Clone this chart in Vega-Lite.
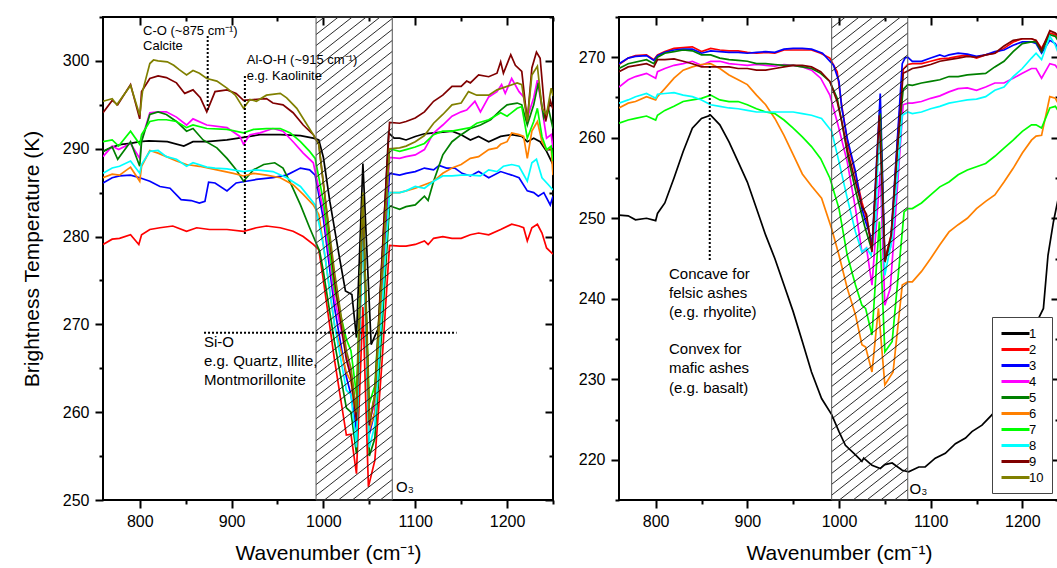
{
"$schema": "https://vega.github.io/schema/vega-lite/v6.json",
"background": "white",
"padding": {"left": 20, "top": 15, "right": 0, "bottom": 0},
"config": {
  "font": "Liberation Sans",
  "view": {"stroke": "black", "strokeWidth": 2},
  "concat": {"spacing": 22},
  "axis": {"labelColor": "black", "titleColor": "black", "tickColor": "black", "grid": false, "domain": false, "labelFontSize": 16, "titleFontSize": 21, "titleFontWeight": "normal", "tickWidth": 2, "labelFont": "Liberation Sans", "titleFont": "Liberation Sans"},
  "text": {"font": "Liberation Sans", "color": "black"}
},
"resolve": {"legend": {"color": "independent"}},
"datasets": {
"L": [
{"id":"1","wn":760,"bt":289.7},{"id":"1","wn":770,"bt":290.2},{"id":"1","wn":780,"bt":290.5},{"id":"1","wn":790,"bt":290.6},{"id":"1","wn":800,"bt":290.8},{"id":"1","wn":810,"bt":290.9},{"id":"1","wn":830,"bt":290.8},{"id":"1","wn":848,"bt":290.3},{"id":"1","wn":858,"bt":290.8},{"id":"1","wn":873,"bt":290.8},{"id":"1","wn":895,"bt":291},{"id":"1","wn":913,"bt":291.3},{"id":"1","wn":931,"bt":291.6},{"id":"1","wn":953,"bt":291.6},{"id":"1","wn":975,"bt":291.5},{"id":"1","wn":989,"bt":291.2},{"id":"1","wn":995,"bt":291},{"id":"1","wn":1000,"bt":289},{"id":"1","wn":1007,"bt":284},{"id":"1","wn":1018,"bt":277.3},{"id":"1","wn":1024,"bt":273.8},{"id":"1","wn":1031,"bt":273.4},{"id":"1","wn":1036,"bt":268.5},{"id":"1","wn":1043,"bt":288.3},{"id":"1","wn":1052,"bt":267.7},{"id":"1","wn":1060,"bt":269.6},{"id":"1","wn":1071,"bt":291.8},{"id":"1","wn":1077,"bt":291.2},{"id":"1","wn":1083,"bt":291.2},{"id":"1","wn":1090,"bt":291},{"id":"1","wn":1100,"bt":291.4},{"id":"1","wn":1110,"bt":291.7},{"id":"1","wn":1120,"bt":291.8},{"id":"1","wn":1130,"bt":291.9},{"id":"1","wn":1140,"bt":292},{"id":"1","wn":1150,"bt":291.6},{"id":"1","wn":1160,"bt":291},{"id":"1","wn":1169,"bt":291.4},{"id":"1","wn":1180,"bt":290.8},{"id":"1","wn":1193,"bt":291.4},{"id":"1","wn":1205,"bt":291.6},{"id":"1","wn":1216,"bt":291.4},{"id":"1","wn":1222,"bt":290.8},{"id":"1","wn":1229,"bt":291.2},{"id":"1","wn":1236,"bt":290.8},{"id":"1","wn":1243,"bt":289.7},{"id":"1","wn":1250,"bt":288.2},
{"id":"2","wn":760,"bt":279.1},{"id":"2","wn":770,"bt":279.7},{"id":"2","wn":778,"bt":279.8},{"id":"2","wn":790,"bt":280.2},{"id":"2","wn":799,"bt":279.1},{"id":"2","wn":802,"bt":280.2},{"id":"2","wn":811,"bt":280.8},{"id":"2","wn":822,"bt":281},{"id":"2","wn":836,"bt":281.2},{"id":"2","wn":851,"bt":280.6},{"id":"2","wn":862,"bt":281},{"id":"2","wn":876,"bt":280.8},{"id":"2","wn":895,"bt":280.8},{"id":"2","wn":913,"bt":280.6},{"id":"2","wn":927,"bt":281},{"id":"2","wn":938,"bt":281.2},{"id":"2","wn":953,"bt":281},{"id":"2","wn":967,"bt":280.6},{"id":"2","wn":978,"bt":280},{"id":"2","wn":989,"bt":279.1},{"id":"2","wn":995,"bt":278.5},{"id":"2","wn":1000,"bt":275},{"id":"2","wn":1012,"bt":266},{"id":"2","wn":1025,"bt":257.4},{"id":"2","wn":1030,"bt":257.5},{"id":"2","wn":1036,"bt":253},{"id":"2","wn":1043,"bt":272},{"id":"2","wn":1049,"bt":251.5},{"id":"2","wn":1056,"bt":254.5},{"id":"2","wn":1064,"bt":266},{"id":"2","wn":1072,"bt":279},{"id":"2","wn":1083,"bt":278.9},{"id":"2","wn":1090,"bt":278.9},{"id":"2","wn":1100,"bt":279.1},{"id":"2","wn":1110,"bt":279.5},{"id":"2","wn":1114,"bt":279.1},{"id":"2","wn":1120,"bt":279.8},{"id":"2","wn":1130,"bt":280},{"id":"2","wn":1140,"bt":279.8},{"id":"2","wn":1150,"bt":279.8},{"id":"2","wn":1160,"bt":280.2},{"id":"2","wn":1169,"bt":280.4},{"id":"2","wn":1180,"bt":280.2},{"id":"2","wn":1193,"bt":280.8},{"id":"2","wn":1205,"bt":281.4},{"id":"2","wn":1213,"bt":281.2},{"id":"2","wn":1218,"bt":281},{"id":"2","wn":1222,"bt":279.5},{"id":"2","wn":1227,"bt":281},{"id":"2","wn":1233,"bt":281.4},{"id":"2","wn":1238,"bt":280.4},{"id":"2","wn":1243,"bt":278.7},{"id":"2","wn":1250,"bt":278},
{"id":"3","wn":760,"bt":286.1},{"id":"3","wn":770,"bt":286.7},{"id":"3","wn":778,"bt":286.9},{"id":"3","wn":790,"bt":287},{"id":"3","wn":800,"bt":286.7},{"id":"3","wn":811,"bt":286.3},{"id":"3","wn":822,"bt":285.7},{"id":"3","wn":833,"bt":285.5},{"id":"3","wn":845,"bt":284.2},{"id":"3","wn":856,"bt":284.1},{"id":"3","wn":865,"bt":283.8},{"id":"3","wn":871,"bt":284},{"id":"3","wn":875,"bt":286.2},{"id":"3","wn":882,"bt":286.1},{"id":"3","wn":895,"bt":285.2},{"id":"3","wn":905,"bt":286.1},{"id":"3","wn":916,"bt":286.3},{"id":"3","wn":927,"bt":286.5},{"id":"3","wn":945,"bt":286.7},{"id":"3","wn":960,"bt":287},{"id":"3","wn":975,"bt":287.8},{"id":"3","wn":985,"bt":287.6},{"id":"3","wn":991,"bt":287},{"id":"3","wn":1000,"bt":282},{"id":"3","wn":1012,"bt":272},{"id":"3","wn":1025,"bt":264},{"id":"3","wn":1030,"bt":262},{"id":"3","wn":1036,"bt":258},{"id":"3","wn":1043,"bt":283},{"id":"3","wn":1050,"bt":257.5},{"id":"3","wn":1056,"bt":260},{"id":"3","wn":1064,"bt":274},{"id":"3","wn":1072,"bt":287.2},{"id":"3","wn":1083,"bt":287},{"id":"3","wn":1090,"bt":287.2},{"id":"3","wn":1100,"bt":287.4},{"id":"3","wn":1110,"bt":287.8},{"id":"3","wn":1120,"bt":287.6},{"id":"3","wn":1126,"bt":288.1},{"id":"3","wn":1134,"bt":287.8},{"id":"3","wn":1143,"bt":287.8},{"id":"3","wn":1151,"bt":287.2},{"id":"3","wn":1160,"bt":286.9},{"id":"3","wn":1169,"bt":287.4},{"id":"3","wn":1180,"bt":286.7},{"id":"3","wn":1193,"bt":287.4},{"id":"3","wn":1205,"bt":287},{"id":"3","wn":1213,"bt":286.7},{"id":"3","wn":1222,"bt":285.2},{"id":"3","wn":1229,"bt":285},{"id":"3","wn":1234,"bt":284.6},{"id":"3","wn":1240,"bt":285},{"id":"3","wn":1247,"bt":283.6},{"id":"3","wn":1250,"bt":284.6},
{"id":"4","wn":760,"bt":289.1},{"id":"4","wn":770,"bt":290.3},{"id":"4","wn":777,"bt":289.9},{"id":"4","wn":790,"bt":290.6},{"id":"4","wn":800,"bt":288.9},{"id":"4","wn":802,"bt":291},{"id":"4","wn":811,"bt":294.1},{"id":"4","wn":820,"bt":294.2},{"id":"4","wn":829,"bt":294.2},{"id":"4","wn":840,"bt":293.6},{"id":"4","wn":851,"bt":292.7},{"id":"4","wn":858,"bt":293.4},{"id":"4","wn":873,"bt":292.7},{"id":"4","wn":895,"bt":292.4},{"id":"4","wn":909,"bt":291.4},{"id":"4","wn":913,"bt":290.5},{"id":"4","wn":920,"bt":291.6},{"id":"4","wn":931,"bt":291.8},{"id":"4","wn":945,"bt":292.3},{"id":"4","wn":956,"bt":292},{"id":"4","wn":967,"bt":290.8},{"id":"4","wn":978,"bt":289.5},{"id":"4","wn":989,"bt":288.4},{"id":"4","wn":1000,"bt":283},{"id":"4","wn":1012,"bt":273},{"id":"4","wn":1025,"bt":266.5},{"id":"4","wn":1030,"bt":264.5},{"id":"4","wn":1036,"bt":260},{"id":"4","wn":1043,"bt":284},{"id":"4","wn":1050,"bt":259},{"id":"4","wn":1056,"bt":261},{"id":"4","wn":1064,"bt":276},{"id":"4","wn":1072,"bt":289},{"id":"4","wn":1083,"bt":288.9},{"id":"4","wn":1090,"bt":289.1},{"id":"4","wn":1100,"bt":289.3},{"id":"4","wn":1110,"bt":289.9},{"id":"4","wn":1120,"bt":291.8},{"id":"4","wn":1130,"bt":292.7},{"id":"4","wn":1140,"bt":293.7},{"id":"4","wn":1150,"bt":294.2},{"id":"4","wn":1156,"bt":294.4},{"id":"4","wn":1165,"bt":295.4},{"id":"4","wn":1171,"bt":294.2},{"id":"4","wn":1180,"bt":295.9},{"id":"4","wn":1189,"bt":296.5},{"id":"4","wn":1194,"bt":297.3},{"id":"4","wn":1198,"bt":296.3},{"id":"4","wn":1205,"bt":298},{"id":"4","wn":1213,"bt":296.5},{"id":"4","wn":1218,"bt":295.9},{"id":"4","wn":1222,"bt":293.5},{"id":"4","wn":1229,"bt":295.8},{"id":"4","wn":1233,"bt":297.8},{"id":"4","wn":1238,"bt":294.6},{"id":"4","wn":1243,"bt":291.2},{"id":"4","wn":1248,"bt":291.6},{"id":"4","wn":1250,"bt":290.1},
{"id":"5","wn":760,"bt":289.7},{"id":"5","wn":770,"bt":290.2},{"id":"5","wn":776,"bt":288.8},{"id":"5","wn":790,"bt":290.8},{"id":"5","wn":800,"bt":288},{"id":"5","wn":802,"bt":290.8},{"id":"5","wn":811,"bt":293.9},{"id":"5","wn":820,"bt":294.2},{"id":"5","wn":829,"bt":293.9},{"id":"5","wn":840,"bt":293.1},{"id":"5","wn":851,"bt":292},{"id":"5","wn":858,"bt":292.3},{"id":"5","wn":869,"bt":291},{"id":"5","wn":884,"bt":290.1},{"id":"5","wn":895,"bt":288.9},{"id":"5","wn":905,"bt":287.6},{"id":"5","wn":913,"bt":286.3},{"id":"5","wn":924,"bt":287.6},{"id":"5","wn":935,"bt":288.2},{"id":"5","wn":947,"bt":288.4},{"id":"5","wn":956,"bt":287.8},{"id":"5","wn":965,"bt":285.9},{"id":"5","wn":975,"bt":283.6},{"id":"5","wn":985,"bt":281},{"id":"5","wn":996,"bt":278.3},{"id":"5","wn":1000,"bt":276},{"id":"5","wn":1012,"bt":268},{"id":"5","wn":1025,"bt":260.5},{"id":"5","wn":1030,"bt":260},{"id":"5","wn":1036,"bt":255.3},{"id":"5","wn":1043,"bt":283},{"id":"5","wn":1050,"bt":255},{"id":"5","wn":1056,"bt":257},{"id":"5","wn":1064,"bt":270},{"id":"5","wn":1072,"bt":283.5},{"id":"5","wn":1083,"bt":283.1},{"id":"5","wn":1090,"bt":283.4},{"id":"5","wn":1100,"bt":283.6},{"id":"5","wn":1110,"bt":284.6},{"id":"5","wn":1114,"bt":284.1},{"id":"5","wn":1120,"bt":286.3},{"id":"5","wn":1130,"bt":289.3},{"id":"5","wn":1140,"bt":290.8},{"id":"5","wn":1150,"bt":291.6},{"id":"5","wn":1160,"bt":292.3},{"id":"5","wn":1171,"bt":292.7},{"id":"5","wn":1182,"bt":293.3},{"id":"5","wn":1193,"bt":294.4},{"id":"5","wn":1200,"bt":295},{"id":"5","wn":1211,"bt":295.2},{"id":"5","wn":1216,"bt":295},{"id":"5","wn":1222,"bt":292.7},{"id":"5","wn":1229,"bt":295},{"id":"5","wn":1234,"bt":297.5},{"id":"5","wn":1240,"bt":293.5},{"id":"5","wn":1245,"bt":294.6},{"id":"5","wn":1250,"bt":292.3},
{"id":"6","wn":760,"bt":286.7},{"id":"6","wn":770,"bt":287.1},{"id":"6","wn":778,"bt":287},{"id":"6","wn":790,"bt":287.9},{"id":"6","wn":800,"bt":286.3},{"id":"6","wn":802,"bt":288},{"id":"6","wn":811,"bt":289.8},{"id":"6","wn":820,"bt":289.5},{"id":"6","wn":829,"bt":289.1},{"id":"6","wn":840,"bt":288.6},{"id":"6","wn":851,"bt":288.2},{"id":"6","wn":865,"bt":288},{"id":"6","wn":884,"bt":287.6},{"id":"6","wn":902,"bt":287.2},{"id":"6","wn":913,"bt":286.9},{"id":"6","wn":924,"bt":287.2},{"id":"6","wn":938,"bt":287},{"id":"6","wn":953,"bt":286.7},{"id":"6","wn":967,"bt":285.9},{"id":"6","wn":978,"bt":284.8},{"id":"6","wn":989,"bt":283.6},{"id":"6","wn":995,"bt":282.5},{"id":"6","wn":1000,"bt":279},{"id":"6","wn":1012,"bt":270},{"id":"6","wn":1025,"bt":264.5},{"id":"6","wn":1030,"bt":263.5},{"id":"6","wn":1036,"bt":259},{"id":"6","wn":1043,"bt":283},{"id":"6","wn":1050,"bt":258},{"id":"6","wn":1056,"bt":260},{"id":"6","wn":1064,"bt":273},{"id":"6","wn":1072,"bt":285},{"id":"6","wn":1083,"bt":285},{"id":"6","wn":1090,"bt":285.2},{"id":"6","wn":1100,"bt":285.5},{"id":"6","wn":1110,"bt":285.9},{"id":"6","wn":1120,"bt":286.3},{"id":"6","wn":1130,"bt":287.2},{"id":"6","wn":1140,"bt":287.8},{"id":"6","wn":1150,"bt":288.2},{"id":"6","wn":1160,"bt":288.9},{"id":"6","wn":1169,"bt":289.1},{"id":"6","wn":1180,"bt":289.9},{"id":"6","wn":1189,"bt":290.1},{"id":"6","wn":1193,"bt":290.5},{"id":"6","wn":1200,"bt":290.8},{"id":"6","wn":1205,"bt":291.8},{"id":"6","wn":1213,"bt":291.6},{"id":"6","wn":1218,"bt":291.4},{"id":"6","wn":1222,"bt":288.9},{"id":"6","wn":1227,"bt":292},{"id":"6","wn":1233,"bt":293.1},{"id":"6","wn":1238,"bt":290.8},{"id":"6","wn":1243,"bt":289.9},{"id":"6","wn":1248,"bt":290.1},{"id":"6","wn":1250,"bt":287},
{"id":"7","wn":760,"bt":290.8},{"id":"7","wn":770,"bt":291},{"id":"7","wn":777,"bt":290.3},{"id":"7","wn":790,"bt":292},{"id":"7","wn":800,"bt":290.5},{"id":"7","wn":802,"bt":291.6},{"id":"7","wn":811,"bt":293.1},{"id":"7","wn":820,"bt":293.3},{"id":"7","wn":829,"bt":293.3},{"id":"7","wn":840,"bt":293.1},{"id":"7","wn":851,"bt":292.4},{"id":"7","wn":858,"bt":292.7},{"id":"7","wn":873,"bt":292.3},{"id":"7","wn":895,"bt":292.2},{"id":"7","wn":913,"bt":291.8},{"id":"7","wn":924,"bt":292.2},{"id":"7","wn":938,"bt":292.3},{"id":"7","wn":953,"bt":292.3},{"id":"7","wn":964,"bt":291.8},{"id":"7","wn":975,"bt":290.8},{"id":"7","wn":985,"bt":289.7},{"id":"7","wn":991,"bt":288.9},{"id":"7","wn":1000,"bt":284},{"id":"7","wn":1012,"bt":274},{"id":"7","wn":1025,"bt":268.3},{"id":"7","wn":1030,"bt":267},{"id":"7","wn":1036,"bt":262},{"id":"7","wn":1043,"bt":284},{"id":"7","wn":1050,"bt":261},{"id":"7","wn":1056,"bt":263},{"id":"7","wn":1064,"bt":277},{"id":"7","wn":1072,"bt":290},{"id":"7","wn":1083,"bt":289.7},{"id":"7","wn":1090,"bt":289.9},{"id":"7","wn":1100,"bt":290.2},{"id":"7","wn":1110,"bt":290.6},{"id":"7","wn":1120,"bt":291.6},{"id":"7","wn":1130,"bt":292},{"id":"7","wn":1140,"bt":292},{"id":"7","wn":1150,"bt":292.2},{"id":"7","wn":1160,"bt":292.4},{"id":"7","wn":1167,"bt":292.9},{"id":"7","wn":1180,"bt":293.3},{"id":"7","wn":1193,"bt":294.1},{"id":"7","wn":1200,"bt":293.7},{"id":"7","wn":1211,"bt":294.6},{"id":"7","wn":1216,"bt":294.8},{"id":"7","wn":1222,"bt":291.2},{"id":"7","wn":1229,"bt":293.1},{"id":"7","wn":1233,"bt":294.6},{"id":"7","wn":1238,"bt":291.4},{"id":"7","wn":1243,"bt":289.9},{"id":"7","wn":1248,"bt":290.3},{"id":"7","wn":1250,"bt":288.6},
{"id":"8","wn":760,"bt":287.2},{"id":"8","wn":770,"bt":287.8},{"id":"8","wn":778,"bt":288},{"id":"8","wn":790,"bt":288.6},{"id":"8","wn":800,"bt":287.2},{"id":"8","wn":802,"bt":288.2},{"id":"8","wn":811,"bt":289.7},{"id":"8","wn":820,"bt":289.8},{"id":"8","wn":829,"bt":289.1},{"id":"8","wn":840,"bt":288.8},{"id":"8","wn":851,"bt":288},{"id":"8","wn":858,"bt":288.4},{"id":"8","wn":873,"bt":287.9},{"id":"8","wn":882,"bt":287.8},{"id":"8","wn":895,"bt":287.7},{"id":"8","wn":913,"bt":287.4},{"id":"8","wn":927,"bt":287.6},{"id":"8","wn":945,"bt":287.4},{"id":"8","wn":960,"bt":286.7},{"id":"8","wn":975,"bt":285.7},{"id":"8","wn":985,"bt":284.4},{"id":"8","wn":991,"bt":283.6},{"id":"8","wn":1000,"bt":279},{"id":"8","wn":1012,"bt":270},{"id":"8","wn":1025,"bt":262.5},{"id":"8","wn":1030,"bt":262},{"id":"8","wn":1036,"bt":256},{"id":"8","wn":1043,"bt":282},{"id":"8","wn":1050,"bt":256},{"id":"8","wn":1056,"bt":258.5},{"id":"8","wn":1064,"bt":272},{"id":"8","wn":1072,"bt":285},{"id":"8","wn":1083,"bt":285},{"id":"8","wn":1090,"bt":285.2},{"id":"8","wn":1100,"bt":285.7},{"id":"8","wn":1110,"bt":285.5},{"id":"8","wn":1120,"bt":286.3},{"id":"8","wn":1130,"bt":286.9},{"id":"8","wn":1140,"bt":286.9},{"id":"8","wn":1150,"bt":287},{"id":"8","wn":1160,"bt":287},{"id":"8","wn":1171,"bt":286.9},{"id":"8","wn":1180,"bt":287.6},{"id":"8","wn":1189,"bt":287.4},{"id":"8","wn":1196,"bt":288},{"id":"8","wn":1205,"bt":288.2},{"id":"8","wn":1213,"bt":288},{"id":"8","wn":1222,"bt":286.3},{"id":"8","wn":1227,"bt":288.4},{"id":"8","wn":1232,"bt":288.8},{"id":"8","wn":1238,"bt":286.7},{"id":"8","wn":1245,"bt":285.9},{"id":"8","wn":1250,"bt":285.3},
{"id":"9","wn":760,"bt":294.1},{"id":"9","wn":770,"bt":295.5},{"id":"9","wn":776,"bt":295},{"id":"9","wn":790,"bt":297.3},{"id":"9","wn":800,"bt":293.4},{"id":"9","wn":802,"bt":296.5},{"id":"9","wn":811,"bt":298},{"id":"9","wn":820,"bt":298.3},{"id":"9","wn":829,"bt":298.1},{"id":"9","wn":840,"bt":297.5},{"id":"9","wn":849,"bt":296.3},{"id":"9","wn":858,"bt":296.7},{"id":"9","wn":866,"bt":295.8},{"id":"9","wn":873,"bt":294.2},{"id":"9","wn":882,"bt":296.5},{"id":"9","wn":895,"bt":296.7},{"id":"9","wn":905,"bt":296.3},{"id":"9","wn":913,"bt":295.5},{"id":"9","wn":924,"bt":295.6},{"id":"9","wn":938,"bt":295.7},{"id":"9","wn":945,"bt":295.2},{"id":"9","wn":956,"bt":295},{"id":"9","wn":967,"bt":294.1},{"id":"9","wn":978,"bt":292.7},{"id":"9","wn":989,"bt":291.6},{"id":"9","wn":995,"bt":290.5},{"id":"9","wn":1000,"bt":286},{"id":"9","wn":1012,"bt":275},{"id":"9","wn":1025,"bt":266},{"id":"9","wn":1030,"bt":264},{"id":"9","wn":1036,"bt":259},{"id":"9","wn":1043,"bt":284.5},{"id":"9","wn":1050,"bt":258.5},{"id":"9","wn":1056,"bt":262},{"id":"9","wn":1064,"bt":278},{"id":"9","wn":1072,"bt":293},{"id":"9","wn":1083,"bt":292.9},{"id":"9","wn":1090,"bt":293.1},{"id":"9","wn":1100,"bt":293.5},{"id":"9","wn":1110,"bt":294.2},{"id":"9","wn":1120,"bt":295.4},{"id":"9","wn":1130,"bt":296.1},{"id":"9","wn":1140,"bt":297.1},{"id":"9","wn":1150,"bt":297.1},{"id":"9","wn":1156,"bt":297.7},{"id":"9","wn":1160,"bt":297.5},{"id":"9","wn":1169,"bt":298.4},{"id":"9","wn":1180,"bt":298.2},{"id":"9","wn":1189,"bt":298.6},{"id":"9","wn":1193,"bt":299.9},{"id":"9","wn":1196,"bt":298.6},{"id":"9","wn":1204,"bt":300.7},{"id":"9","wn":1209,"bt":299.5},{"id":"9","wn":1216,"bt":298.8},{"id":"9","wn":1222,"bt":293.1},{"id":"9","wn":1227,"bt":299.2},{"id":"9","wn":1232,"bt":301},{"id":"9","wn":1236,"bt":300.3},{"id":"9","wn":1242,"bt":293.1},{"id":"9","wn":1247,"bt":295.5},{"id":"9","wn":1250,"bt":294.5},
{"id":"10","wn":760,"bt":295.4},{"id":"10","wn":770,"bt":295.7},{"id":"10","wn":775,"bt":295},{"id":"10","wn":790,"bt":297.2},{"id":"10","wn":800,"bt":293.8},{"id":"10","wn":803,"bt":296.5},{"id":"10","wn":811,"bt":299.7},{"id":"10","wn":815,"bt":300.1},{"id":"10","wn":820,"bt":300},{"id":"10","wn":830,"bt":299.9},{"id":"10","wn":837,"bt":299.5},{"id":"10","wn":843,"bt":299},{"id":"10","wn":851,"bt":298.4},{"id":"10","wn":858,"bt":298.9},{"id":"10","wn":865,"bt":298.6},{"id":"10","wn":873,"bt":298},{"id":"10","wn":884,"bt":297.7},{"id":"10","wn":895,"bt":296.9},{"id":"10","wn":904,"bt":296.1},{"id":"10","wn":913,"bt":294.6},{"id":"10","wn":920,"bt":295.6},{"id":"10","wn":927,"bt":295.4},{"id":"10","wn":938,"bt":296.1},{"id":"10","wn":953,"bt":296.3},{"id":"10","wn":960,"bt":295.8},{"id":"10","wn":971,"bt":294.6},{"id":"10","wn":980,"bt":293.1},{"id":"10","wn":989,"bt":291.6},{"id":"10","wn":995,"bt":290.5},{"id":"10","wn":1000,"bt":286},{"id":"10","wn":1012,"bt":276},{"id":"10","wn":1025,"bt":267},{"id":"10","wn":1030,"bt":265},{"id":"10","wn":1036,"bt":260},{"id":"10","wn":1043,"bt":285},{"id":"10","wn":1050,"bt":259},{"id":"10","wn":1056,"bt":262},{"id":"10","wn":1064,"bt":276},{"id":"10","wn":1072,"bt":290},{"id":"10","wn":1083,"bt":290.1},{"id":"10","wn":1090,"bt":290.3},{"id":"10","wn":1100,"bt":290.8},{"id":"10","wn":1110,"bt":291.5},{"id":"10","wn":1120,"bt":292.9},{"id":"10","wn":1130,"bt":293.9},{"id":"10","wn":1140,"bt":295},{"id":"10","wn":1150,"bt":295.2},{"id":"10","wn":1158,"bt":296.5},{"id":"10","wn":1167,"bt":296.1},{"id":"10","wn":1180,"bt":296.1},{"id":"10","wn":1189,"bt":296.7},{"id":"10","wn":1200,"bt":297.1},{"id":"10","wn":1211,"bt":297.5},{"id":"10","wn":1216,"bt":297.3},{"id":"10","wn":1222,"bt":293.1},{"id":"10","wn":1227,"bt":298.4},{"id":"10","wn":1233,"bt":299.4},{"id":"10","wn":1238,"bt":294.6},{"id":"10","wn":1243,"bt":293.9},{"id":"10","wn":1248,"bt":296.9},{"id":"10","wn":1250,"bt":296}
],
"R": [
{"id":"1","wn":760,"bt":250.4},{"id":"1","wn":770,"bt":250.3},{"id":"1","wn":778,"bt":249.8},{"id":"1","wn":790,"bt":250},{"id":"1","wn":800,"bt":249.7},{"id":"1","wn":802,"bt":250.6},{"id":"1","wn":810,"bt":251.9},{"id":"1","wn":820,"bt":255},{"id":"1","wn":830,"bt":258.3},{"id":"1","wn":840,"bt":261.2},{"id":"1","wn":850,"bt":262.4},{"id":"1","wn":860,"bt":262.8},{"id":"1","wn":870,"bt":261.6},{"id":"1","wn":880,"bt":259.5},{"id":"1","wn":890,"bt":257},{"id":"1","wn":900,"bt":254.5},{"id":"1","wn":910,"bt":251.2},{"id":"1","wn":920,"bt":247.9},{"id":"1","wn":930,"bt":245},{"id":"1","wn":940,"bt":241.7},{"id":"1","wn":950,"bt":238.4},{"id":"1","wn":960,"bt":234.7},{"id":"1","wn":970,"bt":230.9},{"id":"1","wn":981,"bt":227.6},{"id":"1","wn":992,"bt":225.6},{"id":"1","wn":1000,"bt":223.5},{"id":"1","wn":1007,"bt":221.8},{"id":"1","wn":1018,"bt":220.6},{"id":"1","wn":1025,"bt":219.8},{"id":"1","wn":1027,"bt":220.2},{"id":"1","wn":1036,"bt":219.3},{"id":"1","wn":1045,"bt":218.9},{"id":"1","wn":1050,"bt":219.4},{"id":"1","wn":1058,"bt":219.6},{"id":"1","wn":1069,"bt":218.7},{"id":"1","wn":1076,"bt":218.5},{"id":"1","wn":1087,"bt":219.1},{"id":"1","wn":1094,"bt":219.1},{"id":"1","wn":1105,"bt":220.2},{"id":"1","wn":1116,"bt":220.8},{"id":"1","wn":1127,"bt":222},{"id":"1","wn":1138,"bt":222.7},{"id":"1","wn":1145,"bt":223.5},{"id":"1","wn":1156,"bt":224.3},{"id":"1","wn":1167,"bt":225.6},{"id":"1","wn":1180,"bt":228},{"id":"1","wn":1195,"bt":231.5},{"id":"1","wn":1205,"bt":234},{"id":"1","wn":1217,"bt":237.4},{"id":"1","wn":1223,"bt":238.8},{"id":"1","wn":1228,"bt":245.4},{"id":"1","wn":1234,"bt":249.6},{"id":"1","wn":1240,"bt":252.9},
{"id":"2","wn":760,"bt":269.1},{"id":"2","wn":770,"bt":269.9},{"id":"2","wn":778,"bt":270.2},{"id":"2","wn":790,"bt":270.3},{"id":"2","wn":798,"bt":269.7},{"id":"2","wn":802,"bt":270.3},{"id":"2","wn":810,"bt":270.7},{"id":"2","wn":820,"bt":271.1},{"id":"2","wn":830,"bt":271.2},{"id":"2","wn":840,"bt":271.3},{"id":"2","wn":850,"bt":270.7},{"id":"2","wn":860,"bt":271.1},{"id":"2","wn":870,"bt":270.9},{"id":"2","wn":880,"bt":270.8},{"id":"2","wn":890,"bt":270.8},{"id":"2","wn":900,"bt":270.6},{"id":"2","wn":910,"bt":270.5},{"id":"2","wn":920,"bt":270.6},{"id":"2","wn":930,"bt":270.5},{"id":"2","wn":940,"bt":270.9},{"id":"2","wn":950,"bt":270.9},{"id":"2","wn":960,"bt":270.9},{"id":"2","wn":970,"bt":270.9},{"id":"2","wn":980,"bt":270.5},{"id":"2","wn":990,"bt":269.9},{"id":"2","wn":998,"bt":268.2},{"id":"2","wn":1003,"bt":264},{"id":"2","wn":1010,"bt":259},{"id":"2","wn":1018,"bt":255.5},{"id":"2","wn":1025,"bt":252},{"id":"2","wn":1030,"bt":250},{"id":"2","wn":1036,"bt":246.5},{"id":"2","wn":1045,"bt":262.5},{"id":"2","wn":1050,"bt":244.8},{"id":"2","wn":1057,"bt":248},{"id":"2","wn":1064,"bt":260},{"id":"2","wn":1070,"bt":268.5},{"id":"2","wn":1075,"bt":269.1},{"id":"2","wn":1080,"bt":269.2},{"id":"2","wn":1090,"bt":269.2},{"id":"2","wn":1100,"bt":269.5},{"id":"2","wn":1110,"bt":269.8},{"id":"2","wn":1120,"bt":269.9},{"id":"2","wn":1130,"bt":270.1},{"id":"2","wn":1140,"bt":270.3},{"id":"2","wn":1150,"bt":269.9},{"id":"2","wn":1160,"bt":270.3},{"id":"2","wn":1170,"bt":270.5},{"id":"2","wn":1180,"bt":271.1},{"id":"2","wn":1190,"bt":271.9},{"id":"2","wn":1200,"bt":272.3},{"id":"2","wn":1210,"bt":272.3},{"id":"2","wn":1215,"bt":272.1},{"id":"2","wn":1221,"bt":271.1},{"id":"2","wn":1230,"bt":273},{"id":"2","wn":1236,"bt":272.8},{"id":"2","wn":1240,"bt":272.3},
{"id":"3","wn":760,"bt":269.2},{"id":"3","wn":770,"bt":269.9},{"id":"3","wn":778,"bt":270.1},{"id":"3","wn":790,"bt":270.2},{"id":"3","wn":798,"bt":269.6},{"id":"3","wn":802,"bt":270.2},{"id":"3","wn":810,"bt":270.6},{"id":"3","wn":820,"bt":270.9},{"id":"3","wn":830,"bt":271},{"id":"3","wn":840,"bt":271},{"id":"3","wn":850,"bt":270.5},{"id":"3","wn":860,"bt":270.8},{"id":"3","wn":870,"bt":270.7},{"id":"3","wn":880,"bt":270.6},{"id":"3","wn":890,"bt":270.6},{"id":"3","wn":900,"bt":270.5},{"id":"3","wn":910,"bt":270.6},{"id":"3","wn":920,"bt":270.7},{"id":"3","wn":930,"bt":270.6},{"id":"3","wn":940,"bt":271},{"id":"3","wn":950,"bt":271.1},{"id":"3","wn":960,"bt":271.1},{"id":"3","wn":970,"bt":271},{"id":"3","wn":982,"bt":270.5},{"id":"3","wn":994,"bt":269},{"id":"3","wn":1000,"bt":267},{"id":"3","wn":1003,"bt":263.7},{"id":"3","wn":1009,"bt":259.9},{"id":"3","wn":1018,"bt":255.8},{"id":"3","wn":1025,"bt":251.2},{"id":"3","wn":1029,"bt":249.6},{"id":"3","wn":1034,"bt":247.9},{"id":"3","wn":1036,"bt":246.3},{"id":"3","wn":1045,"bt":265.5},{"id":"3","wn":1050,"bt":245},{"id":"3","wn":1056,"bt":246.3},{"id":"3","wn":1069,"bt":269.2},{"id":"3","wn":1072,"bt":269.9},{"id":"3","wn":1075,"bt":270},{"id":"3","wn":1080,"bt":269.5},{"id":"3","wn":1090,"bt":269.5},{"id":"3","wn":1100,"bt":269.9},{"id":"3","wn":1110,"bt":270.3},{"id":"3","wn":1115,"bt":270.1},{"id":"3","wn":1120,"bt":270.3},{"id":"3","wn":1130,"bt":270.5},{"id":"3","wn":1140,"bt":270.4},{"id":"3","wn":1150,"bt":270.1},{"id":"3","wn":1160,"bt":270.3},{"id":"3","wn":1170,"bt":270.7},{"id":"3","wn":1180,"bt":270.9},{"id":"3","wn":1190,"bt":271.5},{"id":"3","wn":1200,"bt":271.9},{"id":"3","wn":1210,"bt":271.9},{"id":"3","wn":1215,"bt":271.7},{"id":"3","wn":1221,"bt":270.5},{"id":"3","wn":1230,"bt":272.1},{"id":"3","wn":1236,"bt":271.7},{"id":"3","wn":1240,"bt":270.7},
{"id":"4","wn":760,"bt":266.3},{"id":"4","wn":770,"bt":267.2},{"id":"4","wn":778,"bt":267.6},{"id":"4","wn":790,"bt":268},{"id":"4","wn":800,"bt":267.4},{"id":"4","wn":802,"bt":268.2},{"id":"4","wn":810,"bt":268.6},{"id":"4","wn":820,"bt":269},{"id":"4","wn":830,"bt":269.2},{"id":"4","wn":840,"bt":269.5},{"id":"4","wn":850,"bt":269},{"id":"4","wn":860,"bt":269.5},{"id":"4","wn":870,"bt":269.5},{"id":"4","wn":880,"bt":269.2},{"id":"4","wn":890,"bt":269.1},{"id":"4","wn":900,"bt":269},{"id":"4","wn":910,"bt":269.1},{"id":"4","wn":920,"bt":269},{"id":"4","wn":930,"bt":268.9},{"id":"4","wn":940,"bt":269.1},{"id":"4","wn":950,"bt":269},{"id":"4","wn":960,"bt":268.8},{"id":"4","wn":970,"bt":268.4},{"id":"4","wn":980,"bt":267.4},{"id":"4","wn":990,"bt":265.3},{"id":"4","wn":998,"bt":262},{"id":"4","wn":1009,"bt":257},{"id":"4","wn":1018,"bt":251.2},{"id":"4","wn":1025,"bt":245.8},{"id":"4","wn":1030,"bt":246.3},{"id":"4","wn":1036,"bt":241.7},{"id":"4","wn":1045,"bt":255.8},{"id":"4","wn":1050,"bt":239.2},{"id":"4","wn":1056,"bt":241.3},{"id":"4","wn":1070,"bt":264.1},{"id":"4","wn":1075,"bt":264.3},{"id":"4","wn":1080,"bt":264.3},{"id":"4","wn":1090,"bt":264.5},{"id":"4","wn":1100,"bt":264.9},{"id":"4","wn":1110,"bt":265.2},{"id":"4","wn":1120,"bt":265.7},{"id":"4","wn":1130,"bt":266.1},{"id":"4","wn":1140,"bt":266.2},{"id":"4","wn":1150,"bt":265.9},{"id":"4","wn":1160,"bt":266.3},{"id":"4","wn":1170,"bt":266.8},{"id":"4","wn":1180,"bt":266.8},{"id":"4","wn":1190,"bt":267.4},{"id":"4","wn":1200,"bt":268},{"id":"4","wn":1210,"bt":268.6},{"id":"4","wn":1215,"bt":268.6},{"id":"4","wn":1221,"bt":267.4},{"id":"4","wn":1230,"bt":269.2},{"id":"4","wn":1236,"bt":269},{"id":"4","wn":1240,"bt":268.4},
{"id":"5","wn":760,"bt":268.6},{"id":"5","wn":770,"bt":269.2},{"id":"5","wn":790,"bt":269.7},{"id":"5","wn":798,"bt":269.2},{"id":"5","wn":802,"bt":270},{"id":"5","wn":810,"bt":270.5},{"id":"5","wn":820,"bt":270.7},{"id":"5","wn":830,"bt":270.9},{"id":"5","wn":840,"bt":270.8},{"id":"5","wn":850,"bt":270.3},{"id":"5","wn":860,"bt":270.3},{"id":"5","wn":870,"bt":269.9},{"id":"5","wn":880,"bt":269.7},{"id":"5","wn":890,"bt":269.6},{"id":"5","wn":900,"bt":269.5},{"id":"5","wn":910,"bt":269.2},{"id":"5","wn":920,"bt":269.2},{"id":"5","wn":930,"bt":269.1},{"id":"5","wn":940,"bt":269},{"id":"5","wn":950,"bt":269},{"id":"5","wn":960,"bt":268.8},{"id":"5","wn":970,"bt":268.6},{"id":"5","wn":980,"bt":268},{"id":"5","wn":990,"bt":267},{"id":"5","wn":998,"bt":264.9},{"id":"5","wn":1003,"bt":262},{"id":"5","wn":1010,"bt":257.5},{"id":"5","wn":1018,"bt":253.5},{"id":"5","wn":1028,"bt":249},{"id":"5","wn":1036,"bt":246},{"id":"5","wn":1045,"bt":263},{"id":"5","wn":1050,"bt":244.5},{"id":"5","wn":1057,"bt":247.5},{"id":"5","wn":1064,"bt":259},{"id":"5","wn":1070,"bt":266},{"id":"5","wn":1075,"bt":266.6},{"id":"5","wn":1080,"bt":266.5},{"id":"5","wn":1090,"bt":266.8},{"id":"5","wn":1100,"bt":267},{"id":"5","wn":1110,"bt":267.2},{"id":"5","wn":1120,"bt":267.6},{"id":"5","wn":1130,"bt":267.6},{"id":"5","wn":1140,"bt":267.8},{"id":"5","wn":1150,"bt":267.9},{"id":"5","wn":1160,"bt":268},{"id":"5","wn":1170,"bt":268.8},{"id":"5","wn":1180,"bt":269.5},{"id":"5","wn":1190,"bt":270.7},{"id":"5","wn":1200,"bt":271.7},{"id":"5","wn":1210,"bt":271.9},{"id":"5","wn":1215,"bt":271.9},{"id":"5","wn":1221,"bt":270.7},{"id":"5","wn":1230,"bt":272.8},{"id":"5","wn":1236,"bt":272.6},{"id":"5","wn":1240,"bt":271.9},
{"id":"6","wn":760,"bt":263.7},{"id":"6","wn":770,"bt":264.3},{"id":"6","wn":778,"bt":264.5},{"id":"6","wn":790,"bt":265.1},{"id":"6","wn":800,"bt":264.7},{"id":"6","wn":802,"bt":265.1},{"id":"6","wn":810,"bt":266.1},{"id":"6","wn":820,"bt":267.4},{"id":"6","wn":830,"bt":268.4},{"id":"6","wn":840,"bt":268.8},{"id":"6","wn":850,"bt":269.1},{"id":"6","wn":860,"bt":269.2},{"id":"6","wn":870,"bt":268.6},{"id":"6","wn":880,"bt":267.8},{"id":"6","wn":890,"bt":267.2},{"id":"6","wn":900,"bt":266.6},{"id":"6","wn":910,"bt":265.3},{"id":"6","wn":920,"bt":264.1},{"id":"6","wn":930,"bt":262.4},{"id":"6","wn":940,"bt":260.3},{"id":"6","wn":950,"bt":257.9},{"id":"6","wn":960,"bt":255.5},{"id":"6","wn":970,"bt":254},{"id":"6","wn":981,"bt":252.5},{"id":"6","wn":992,"bt":248.7},{"id":"6","wn":1000,"bt":245.4},{"id":"6","wn":1009,"bt":241.3},{"id":"6","wn":1018,"bt":238},{"id":"6","wn":1025,"bt":234.3},{"id":"6","wn":1029,"bt":234},{"id":"6","wn":1036,"bt":230.9},{"id":"6","wn":1043,"bt":238.8},{"id":"6","wn":1050,"bt":229.3},{"id":"6","wn":1059,"bt":230.9},{"id":"6","wn":1069,"bt":241.7},{"id":"6","wn":1075,"bt":242.1},{"id":"6","wn":1080,"bt":242.1},{"id":"6","wn":1090,"bt":243.4},{"id":"6","wn":1100,"bt":245},{"id":"6","wn":1110,"bt":246.7},{"id":"6","wn":1120,"bt":248.3},{"id":"6","wn":1130,"bt":249.2},{"id":"6","wn":1140,"bt":250},{"id":"6","wn":1150,"bt":251.2},{"id":"6","wn":1160,"bt":252.1},{"id":"6","wn":1170,"bt":252.9},{"id":"6","wn":1180,"bt":254.5},{"id":"6","wn":1190,"bt":256.2},{"id":"6","wn":1200,"bt":258.1},{"id":"6","wn":1210,"bt":259.7},{"id":"6","wn":1215,"bt":260.2},{"id":"6","wn":1221,"bt":260.3},{"id":"6","wn":1230,"bt":265.1},{"id":"6","wn":1236,"bt":264.9},{"id":"6","wn":1240,"bt":264.1},
{"id":"7","wn":760,"bt":261.8},{"id":"7","wn":770,"bt":262.2},{"id":"7","wn":778,"bt":262.4},{"id":"7","wn":790,"bt":262.7},{"id":"7","wn":800,"bt":262.2},{"id":"7","wn":802,"bt":262.8},{"id":"7","wn":810,"bt":263.4},{"id":"7","wn":820,"bt":263.9},{"id":"7","wn":830,"bt":264.5},{"id":"7","wn":840,"bt":264.7},{"id":"7","wn":850,"bt":264.9},{"id":"7","wn":860,"bt":265.3},{"id":"7","wn":870,"bt":264.7},{"id":"7","wn":880,"bt":264.5},{"id":"7","wn":890,"bt":264.5},{"id":"7","wn":900,"bt":264.1},{"id":"7","wn":910,"bt":263.6},{"id":"7","wn":920,"bt":263.2},{"id":"7","wn":930,"bt":263},{"id":"7","wn":940,"bt":262.2},{"id":"7","wn":950,"bt":261.2},{"id":"7","wn":960,"bt":260.1},{"id":"7","wn":970,"bt":258.9},{"id":"7","wn":980,"bt":257.4},{"id":"7","wn":990,"bt":255},{"id":"7","wn":1000,"bt":251.2},{"id":"7","wn":1009,"bt":245.4},{"id":"7","wn":1018,"bt":241.7},{"id":"7","wn":1025,"bt":239.2},{"id":"7","wn":1029,"bt":238.8},{"id":"7","wn":1036,"bt":235.5},{"id":"7","wn":1044,"bt":249.6},{"id":"7","wn":1050,"bt":233.4},{"id":"7","wn":1058,"bt":234.7},{"id":"7","wn":1071,"bt":250.8},{"id":"7","wn":1075,"bt":251.2},{"id":"7","wn":1080,"bt":251.2},{"id":"7","wn":1090,"bt":251.9},{"id":"7","wn":1100,"bt":252.9},{"id":"7","wn":1110,"bt":253.9},{"id":"7","wn":1120,"bt":254.5},{"id":"7","wn":1130,"bt":255.4},{"id":"7","wn":1140,"bt":256},{"id":"7","wn":1150,"bt":256.4},{"id":"7","wn":1160,"bt":256.8},{"id":"7","wn":1170,"bt":257.7},{"id":"7","wn":1180,"bt":258.7},{"id":"7","wn":1190,"bt":259.7},{"id":"7","wn":1200,"bt":260.8},{"id":"7","wn":1210,"bt":261.6},{"id":"7","wn":1215,"bt":261.6},{"id":"7","wn":1221,"bt":261.2},{"id":"7","wn":1230,"bt":263.7},{"id":"7","wn":1236,"bt":263.9},{"id":"7","wn":1240,"bt":263.2},
{"id":"8","wn":760,"bt":264.3},{"id":"8","wn":770,"bt":264.7},{"id":"8","wn":778,"bt":265.1},{"id":"8","wn":790,"bt":265.5},{"id":"8","wn":800,"bt":264.9},{"id":"8","wn":802,"bt":265.4},{"id":"8","wn":810,"bt":265.5},{"id":"8","wn":820,"bt":265.6},{"id":"8","wn":830,"bt":265.3},{"id":"8","wn":840,"bt":265.1},{"id":"8","wn":850,"bt":264.7},{"id":"8","wn":860,"bt":264.1},{"id":"8","wn":870,"bt":263.9},{"id":"8","wn":880,"bt":263.7},{"id":"8","wn":890,"bt":263.6},{"id":"8","wn":900,"bt":263.4},{"id":"8","wn":910,"bt":263.2},{"id":"8","wn":920,"bt":263.2},{"id":"8","wn":930,"bt":263.2},{"id":"8","wn":940,"bt":263.2},{"id":"8","wn":950,"bt":263.2},{"id":"8","wn":960,"bt":263},{"id":"8","wn":970,"bt":262.8},{"id":"8","wn":981,"bt":262.4},{"id":"8","wn":992,"bt":260.8},{"id":"8","wn":1000,"bt":257},{"id":"8","wn":1009,"bt":252.5},{"id":"8","wn":1018,"bt":248.3},{"id":"8","wn":1025,"bt":245.8},{"id":"8","wn":1030,"bt":246.3},{"id":"8","wn":1035,"bt":245.4},{"id":"8","wn":1040,"bt":249.6},{"id":"8","wn":1044,"bt":262},{"id":"8","wn":1050,"bt":242.9},{"id":"8","wn":1058,"bt":247.5},{"id":"8","wn":1069,"bt":262.8},{"id":"8","wn":1075,"bt":263.2},{"id":"8","wn":1080,"bt":263},{"id":"8","wn":1090,"bt":263.2},{"id":"8","wn":1100,"bt":263.6},{"id":"8","wn":1110,"bt":263.9},{"id":"8","wn":1120,"bt":264.3},{"id":"8","wn":1130,"bt":264.5},{"id":"8","wn":1140,"bt":264.7},{"id":"8","wn":1150,"bt":264.8},{"id":"8","wn":1160,"bt":265.1},{"id":"8","wn":1170,"bt":265.9},{"id":"8","wn":1180,"bt":266.3},{"id":"8","wn":1190,"bt":267.6},{"id":"8","wn":1200,"bt":268.6},{"id":"8","wn":1210,"bt":269.9},{"id":"8","wn":1215,"bt":270.5},{"id":"8","wn":1221,"bt":269.7},{"id":"8","wn":1230,"bt":272.6},{"id":"8","wn":1236,"bt":271.5},{"id":"8","wn":1240,"bt":270.3},
{"id":"9","wn":760,"bt":268.2},{"id":"9","wn":770,"bt":268.8},{"id":"9","wn":790,"bt":269.2},{"id":"9","wn":798,"bt":268.8},{"id":"9","wn":802,"bt":269.7},{"id":"9","wn":810,"bt":269.7},{"id":"9","wn":820,"bt":269.8},{"id":"9","wn":830,"bt":269.5},{"id":"9","wn":840,"bt":269.2},{"id":"9","wn":850,"bt":268.8},{"id":"9","wn":860,"bt":268.8},{"id":"9","wn":870,"bt":268.8},{"id":"9","wn":880,"bt":268.8},{"id":"9","wn":890,"bt":268.6},{"id":"9","wn":900,"bt":268.6},{"id":"9","wn":910,"bt":268.4},{"id":"9","wn":920,"bt":268.4},{"id":"9","wn":930,"bt":268.6},{"id":"9","wn":940,"bt":268.8},{"id":"9","wn":950,"bt":269},{"id":"9","wn":960,"bt":269},{"id":"9","wn":970,"bt":268.8},{"id":"9","wn":980,"bt":268.2},{"id":"9","wn":990,"bt":267},{"id":"9","wn":998,"bt":264.5},{"id":"9","wn":1003,"bt":262},{"id":"9","wn":1010,"bt":258},{"id":"9","wn":1018,"bt":254.5},{"id":"9","wn":1025,"bt":251.5},{"id":"9","wn":1030,"bt":250.5},{"id":"9","wn":1036,"bt":245.8},{"id":"9","wn":1044,"bt":262.8},{"id":"9","wn":1050,"bt":244.6},{"id":"9","wn":1057,"bt":247.9},{"id":"9","wn":1064,"bt":259},{"id":"9","wn":1070,"bt":268},{"id":"9","wn":1075,"bt":268.3},{"id":"9","wn":1080,"bt":268.6},{"id":"9","wn":1090,"bt":268.8},{"id":"9","wn":1100,"bt":269.1},{"id":"9","wn":1110,"bt":269.5},{"id":"9","wn":1120,"bt":269.7},{"id":"9","wn":1130,"bt":269.9},{"id":"9","wn":1140,"bt":270.1},{"id":"9","wn":1150,"bt":270},{"id":"9","wn":1160,"bt":270.3},{"id":"9","wn":1170,"bt":270.5},{"id":"9","wn":1180,"bt":271.4},{"id":"9","wn":1190,"bt":272.1},{"id":"9","wn":1200,"bt":272.3},{"id":"9","wn":1210,"bt":272.3},{"id":"9","wn":1215,"bt":272.1},{"id":"9","wn":1221,"bt":270.9},{"id":"9","wn":1230,"bt":273.3},{"id":"9","wn":1236,"bt":273},{"id":"9","wn":1240,"bt":272.6}
],
"HL": [{"h":243},{"h":244.25},{"h":245.5},{"h":246.75},{"h":248},{"h":249.25},{"h":250.5},{"h":251.75},{"h":253},{"h":254.25},{"h":255.5},{"h":256.75},{"h":258},{"h":259.25},{"h":260.5},{"h":261.75},{"h":263},{"h":264.25},{"h":265.5},{"h":266.75},{"h":268},{"h":269.25},{"h":270.5},{"h":271.75},{"h":273},{"h":274.25},{"h":275.5},{"h":276.75},{"h":278},{"h":279.25},{"h":280.5},{"h":281.75},{"h":283},{"h":284.25},{"h":285.5},{"h":286.75},{"h":288},{"h":289.25},{"h":290.5},{"h":291.75},{"h":293},{"h":294.25},{"h":295.5},{"h":296.75},{"h":298},{"h":299.25},{"h":300.5},{"h":301.75},{"h":303},{"h":304.25}],
"HR": [{"h":207.5},{"h":208.85},{"h":210.2},{"h":211.55},{"h":212.9},{"h":214.25},{"h":215.6},{"h":216.95},{"h":218.3},{"h":219.65},{"h":221},{"h":222.35},{"h":223.7},{"h":225.05},{"h":226.4},{"h":227.75},{"h":229.1},{"h":230.45},{"h":231.8},{"h":233.15},{"h":234.5},{"h":235.85},{"h":237.2},{"h":238.55},{"h":239.9},{"h":241.25},{"h":242.6},{"h":243.95},{"h":245.3},{"h":246.65},{"h":248},{"h":249.35},{"h":250.7},{"h":252.05},{"h":253.4},{"h":254.75},{"h":256.1},{"h":257.45},{"h":258.8},{"h":260.15},{"h":261.5},{"h":262.85},{"h":264.2},{"h":265.55},{"h":266.9},{"h":268.25},{"h":269.6},{"h":270.95},{"h":272.3},{"h":273.65}]
},
"hconcat": [
{
  "width": 450, "height": 483,
  "resolve": {"axis": {"x": "independent", "y": "independent"}},
  "layer": [
    {"data": {"name": "L"}, "mark": {"type": "line", "strokeWidth": 1.7, "clip": true},
     "encoding": {
       "x": {"field": "wn", "type": "quantitative", "scale": {"domain": [760, 1250], "nice": false, "zero": false},
             "axis": {"orient": "bottom", "values": [800,850,900,950,1000,1050,1100,1150,1200,1250], "format": "d", "labelExpr": "datum.value % 100 === 0 ? datum.label : ''", "tickSize": 8, "tickDash": {"condition": {"test": "datum.value % 100 !== 0", "value": [4, 20]}, "value": [1, 0]}, "labelPadding": 5, "title": "Wavenumber (cm⁻¹)", "titlePadding": 13}},
       "y": {"field": "bt", "type": "quantitative", "scale": {"domain": [250, 305], "nice": false, "zero": false},
             "axis": {"orient": "left", "values": [250,255,260,265,270,275,280,285,290,295,300,305], "labelExpr": "datum.value % 10 === 0 ? datum.label : ''", "tickSize": 8, "tickDash": {"condition": {"test": "datum.value % 10 !== 0", "value": [4, 20]}, "value": [1, 0]}, "labelPadding": 6, "title": "Brightness Temperature (K)", "titlePadding": 20}},
       "color": {"field": "id", "type": "nominal", "scale": {"domain": ["1","2","3","4","5","6","7","8","9","10"], "range": ["#000000","#ff0000","#0000ff","#ff00ff","#008000","#ff8000","#00ff00","#00ffff","#800000","#808000"]}, "legend": null}
     }},
    {"data": {"name": "HL"}, "mark": {"type": "rule", "y2Offset": -60, "clip": true, "color": "#111111", "strokeWidth": 0.9},
     "encoding": {
       "x": {"datum": 992, "type": "quantitative", "axis": {"orient": "top", "labels": false, "title": null, "values": [800,850,900,950,1000,1050,1100,1150,1200,1250], "tickSize": -8, "tickDash": {"condition": {"test": "datum.value % 100 !== 0", "value": [4, 20]}, "value": [1, 0]}}},
       "x2": {"datum": 1075},
       "y": {"field": "h", "type": "quantitative", "axis": {"orient": "right", "labels": false, "title": null, "values": [250,255,260,265,270,275,280,285,290,295,300,305], "tickSize": -8, "tickDash": {"condition": {"test": "datum.value % 10 !== 0", "value": [4, 20]}, "value": [1, 0]}}},
       "y2": {"field": "h"}
     }},
    {"data": {"values": [{}]}, "mark": {"type": "rect", "fill": "transparent", "stroke": "#555555", "strokeWidth": 1},
     "encoding": {"x": {"datum": 992, "type": "quantitative", "axis": null}, "x2": {"datum": 1075}}},
    {"data": {"values": [{}]}, "mark": {"type": "rule", "strokeDash": [2, 2], "strokeWidth": 2, "color": "black"},
     "encoding": {"x": {"datum": 874, "type": "quantitative", "axis": null}, "y": {"datum": 294.4, "type": "quantitative", "axis": null}, "y2": {"datum": 303}}},
    {"data": {"values": [{}]}, "mark": {"type": "rule", "strokeDash": [2, 2], "strokeWidth": 2, "color": "black"},
     "encoding": {"x": {"datum": 914.5, "type": "quantitative", "axis": null}, "y": {"datum": 280.3, "type": "quantitative", "axis": null}, "y2": {"datum": 298.3}}},
    {"data": {"values": [{}]}, "mark": {"type": "rule", "strokeDash": [2, 2], "strokeWidth": 2, "color": "black"},
     "encoding": {"x": {"datum": 870, "type": "quantitative", "axis": null}, "x2": {"datum": 1145}, "y": {"datum": 269.05, "type": "quantitative", "axis": null}}},
    {"data": {"values": [{}]}, "mark": {"type": "text", "align": "left", "baseline": "alphabetic", "fontSize": 13, "lineHeight": 15.5, "text": ["C-O (~875 cm⁻¹)", "Calcite"]},
     "encoding": {"x": {"datum": 803.6, "type": "quantitative", "axis": null}, "y": {"datum": 303, "type": "quantitative", "axis": null}}},
    {"data": {"values": [{}]}, "mark": {"type": "text", "align": "left", "baseline": "alphabetic", "fontSize": 13, "lineHeight": 15.5, "text": ["Al-O-H (~915 cm⁻¹)", "e.g. Kaolinite"]},
     "encoding": {"x": {"datum": 916.5, "type": "quantitative", "axis": null}, "y": {"datum": 299.6, "type": "quantitative", "axis": null}}},
    {"data": {"values": [{}]}, "mark": {"type": "text", "align": "left", "baseline": "alphabetic", "fontSize": 15, "lineHeight": 19, "text": ["Si-O", "e.g. Quartz, Illite,", "Montmorillonite"]},
     "encoding": {"x": {"datum": 870, "type": "quantitative", "axis": null}, "y": {"datum": 267.4, "type": "quantitative", "axis": null}}},
    {"data": {"values": [{}]}, "mark": {"type": "text", "align": "left", "baseline": "alphabetic", "fontSize": 15, "text": "O₃"},
     "encoding": {"x": {"datum": 1079, "type": "quantitative", "axis": null}, "y": {"datum": 250.9, "type": "quantitative", "axis": null}}}
  ]
},
{
  "width": 440, "height": 483,
  "resolve": {"axis": {"x": "independent", "y": "independent"}},
  "layer": [
    {"data": {"name": "R"}, "mark": {"type": "line", "strokeWidth": 1.7, "clip": true},
     "encoding": {
       "x": {"field": "wn", "type": "quantitative", "scale": {"domain": [760, 1240], "nice": false, "zero": false},
             "axis": {"orient": "bottom", "values": [800,850,900,950,1000,1050,1100,1150,1200], "format": "d", "labelExpr": "datum.value % 100 === 0 ? datum.label : ''", "tickSize": 8, "tickDash": {"condition": {"test": "datum.value % 100 !== 0", "value": [4, 20]}, "value": [1, 0]}, "labelPadding": 5, "title": "Wavenumber (cm⁻¹)", "titlePadding": 13}},
       "y": {"field": "bt", "type": "quantitative", "scale": {"domain": [215, 275], "nice": false, "zero": false},
             "axis": {"orient": "left", "values": [215,220,225,230,235,240,245,250,255,260,265,270,275], "labelExpr": "datum.value % 10 === 0 ? datum.label : ''", "tickSize": 8, "tickDash": {"condition": {"test": "datum.value % 10 !== 0", "value": [4, 20]}, "value": [1, 0]}, "labelPadding": 6, "title": null}},
       "color": {"field": "id", "type": "nominal", "scale": {"domain": ["1","2","3","4","5","6","7","8","9","10"], "range": ["#000000","#ff0000","#0000ff","#ff00ff","#008000","#ff8000","#00ff00","#00ffff","#800000","#808000"]},
                 "legend": {"title": null, "orient": "bottom-right", "offset": 7, "fillColor": "white", "strokeColor": "#444444", "padding": 8, "symbolType": "M-1,0H3", "symbolSize": 196, "symbolStrokeWidth": 3, "labelFontSize": 13, "labelColor": "black", "labelOffset": 12, "rowPadding": -0.5, "labelFont": "Liberation Sans"}}
     }},
    {"data": {"name": "HR"}, "mark": {"type": "rule", "y2Offset": -60, "clip": true, "color": "#111111", "strokeWidth": 0.9},
     "encoding": {
       "x": {"datum": 992, "type": "quantitative", "axis": {"orient": "top", "labels": false, "title": null, "values": [800,850,900,950,1000,1050,1100,1150,1200], "tickSize": -8, "tickDash": {"condition": {"test": "datum.value % 100 !== 0", "value": [4, 20]}, "value": [1, 0]}}},
       "x2": {"datum": 1075},
       "y": {"field": "h", "type": "quantitative", "axis": {"orient": "right", "labels": false, "title": null, "values": [215,220,225,230,235,240,245,250,255,260,265,270,275], "tickSize": -8, "tickDash": {"condition": {"test": "datum.value % 10 !== 0", "value": [4, 20]}, "value": [1, 0]}}},
       "y2": {"field": "h"}
     }},
    {"data": {"values": [{}]}, "mark": {"type": "rect", "fill": "transparent", "stroke": "#555555", "strokeWidth": 1},
     "encoding": {"x": {"datum": 992, "type": "quantitative", "axis": null}, "x2": {"datum": 1075}}},
    {"data": {"values": [{}]}, "mark": {"type": "rule", "strokeDash": [2, 2], "strokeWidth": 2, "color": "black"},
     "encoding": {"x": {"datum": 859, "type": "quantitative", "axis": null}, "y": {"datum": 244.8, "type": "quantitative", "axis": null}, "y2": {"datum": 269.2}}},
    {"data": {"values": [{}]}, "mark": {"type": "text", "align": "left", "baseline": "alphabetic", "fontSize": 15, "lineHeight": 19.2, "text": ["Concave for", "felsic ashes", "(e.g. rhyolite)"]},
     "encoding": {"x": {"datum": 814.5, "type": "quantitative", "axis": null}, "y": {"datum": 242.5, "type": "quantitative", "axis": null}}},
    {"data": {"values": [{}]}, "mark": {"type": "text", "align": "left", "baseline": "alphabetic", "fontSize": 15, "lineHeight": 19.2, "text": ["Convex for", "mafic ashes", "(e.g. basalt)"]},
     "encoding": {"x": {"datum": 814.5, "type": "quantitative", "axis": null}, "y": {"datum": 233.1, "type": "quantitative", "axis": null}}},
    {"data": {"values": [{}]}, "mark": {"type": "text", "align": "left", "baseline": "alphabetic", "fontSize": 15, "text": "O₃"},
     "encoding": {"x": {"datum": 1077, "type": "quantitative", "axis": null}, "y": {"datum": 215.8, "type": "quantitative", "axis": null}}}
  ]
}
]
}
